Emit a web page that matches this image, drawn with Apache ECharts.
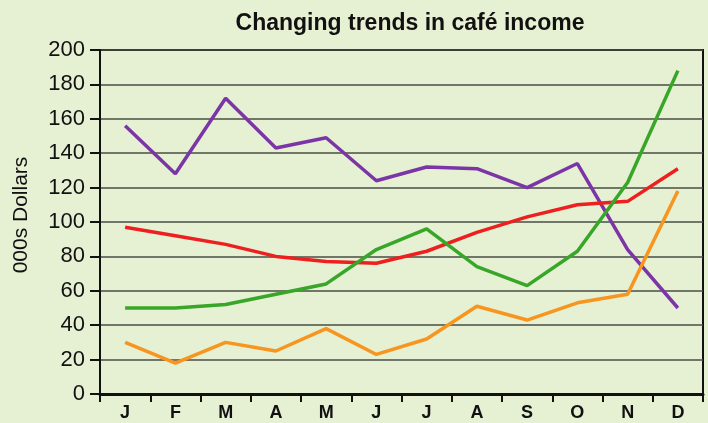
<!DOCTYPE html>
<html>
<head>
<meta charset="utf-8">
<style>
  html, body { margin: 0; padding: 0; background: #e6f0d3; }
  #chart { width: 708px; height: 423px; }
</style>
<script src="https://cdn.jsdelivr.net/npm/echarts@6/dist/echarts.min.js"></script>
</head>
<body>
<div id="chart"></div>
<script>
const months = ['J', 'F', 'M', 'A', 'M', 'J', 'J', 'A', 'S', 'O', 'N', 'D']
// income in 000s dollars
const purpleLine = [156, 128, 172, 143, 149, 124, 132, 131, 120, 134, 84, 50]
const redLine = [97, 92, 87, 80, 77, 76, 83, 94, 103, 110, 112, 131]
const greenLine = [50, 50, 52, 58, 64, 84, 96, 74, 63, 83, 123, 188]
const orangeLine = [30, 18, 30, 25, 38, 23, 32, 51, 43, 53, 58, 118]

const font = '"Liberation Sans", Arial, sans-serif'

function lineSeries(data, color) {
  return {
    type: 'line',
    data: data,
    symbol: 'none',
    lineStyle: { color: color, width: 3.5 },
    itemStyle: { color: color }
  }
}

const chart = echarts.init(document.getElementById('chart'))
chart.setOption({
  backgroundColor: '#e6f0d3',
  animation: false,
  title: {
    text: 'Changing trends in café income',
    left: 405,
    top: 7,
    textAlign: 'center',
    textStyle: { fontFamily: font, fontSize: 23, fontWeight: 'bold', color: '#111' }
  },
  grid: {
    left: 100,
    right: 5,
    top: 50,
    bottom: 29,
    outerBoundsMode: 'none',
    show: true,
    borderColor: '#111',
    borderWidth: 2,
    backgroundColor: 'transparent'
  },
  xAxis: {
    type: 'category',
    data: months,
    boundaryGap: true,
    axisLine: { lineStyle: { color: '#111', width: 3 } },
    axisTick: { show: true, length: 8, lineStyle: { color: '#111', width: 2 } },
    axisLabel: { color: '#111', fontFamily: font, fontSize: 18, fontWeight: 'bold', margin: 10 },
    splitLine: { show: false }
  },
  yAxis: {
    type: 'value',
    min: 0,
    max: 200,
    interval: 20,
    name: '000s Dollars',
    nameLocation: 'middle',
    nameGap: 68,
    nameTextStyle: { color: '#111', fontFamily: font, fontSize: 21, padding: [0, 0, 0, 14] },
    axisLine: { show: true, lineStyle: { color: '#111', width: 2 } },
    axisTick: { show: true, length: 10, lineStyle: { color: '#111', width: 2 } },
    axisLabel: { color: '#111', fontFamily: font, fontSize: 22, margin: 15 },
    splitLine: { lineStyle: { color: '#4a4f45', width: 1.5 } }
  },
  series: [
    lineSeries(purpleLine, '#7b35a6'),
    lineSeries(redLine, '#ee1f1f'),
    lineSeries(greenLine, '#38a628'),
    lineSeries(orangeLine, '#f7951e')
  ]
})
</script>
</body>
</html>
